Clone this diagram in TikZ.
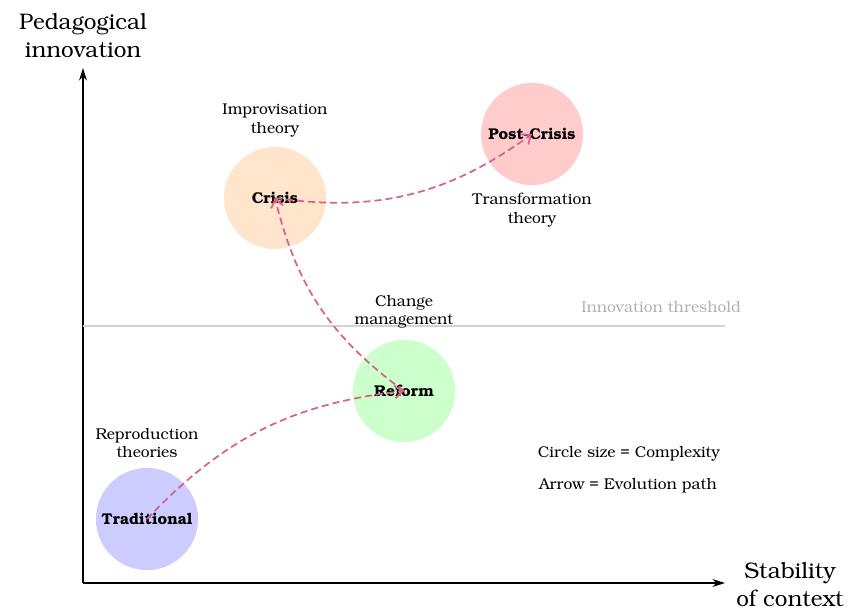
\documentclass[tikz,border=0pt]{standalone}
\usepackage[T1]{fontenc}
\usepackage{bookman}
\usetikzlibrary{arrows.meta}

\definecolor{tradblue}{RGB}{204,204,255}
\definecolor{reformgreen}{RGB}{204,255,204}
\definecolor{crisisorange}{RGB}{255,229,204}
\definecolor{postred}{RGB}{255,204,204}
\definecolor{pathpink}{RGB}{216,96,138}
\definecolor{threshgray}{RGB}{210,210,210}

\tikzset{
	stage/.style={circle,minimum size=2.3cm,inner sep=0pt,font=\bfseries},
	theory/.style={align=center},
	evolution/.style={draw=pathpink,line width=1.1pt,dash pattern=on 4.5pt off 2.6pt,
		-{Straight Barb[length=5pt,width=8pt]}},
	axis/.style={line width=1.3pt,-{Stealth[length=8pt,width=5pt]}}
}

\begin{document}
\begin{tikzpicture}[x=0.0225cm,y=-0.0225cm]
	\useasboundingbox (0,0) rectangle (852,610);
	% axes
	\coordinate (O) at (83,583);
	\coordinate (Ytop) at (83,68);
	\coordinate (Xend) at (725,583);
	\draw[axis] (O)--(Ytop);
	\draw[axis] (O)--(Xend);
	\node[align=center,font=\Large] (ylab) at (83,36) {Pedagogical\\innovation};
	\node[align=center,font=\Large] (xlab) at (790,585) {Stability\\of context};
	
	% threshold
	\coordinate (Tl) at (83,326);
	\coordinate (Tr) at (725,326);
	\draw[threshgray,line width=1pt] (Tl)--(Tr);
	\node[text=black!30] (thresh) at (661,307) {Innovation threshold};
	
	% stages
	\node[stage,fill=tradblue] (trad) at (147,519) {Traditional};
	\node[stage,fill=reformgreen] (reform) at (404,391) {Reform};
	\node[stage,fill=crisisorange] (crisis) at (275,198) {Crisis};
	\node[stage,fill=postred] (post) at (532,134) {Post-Crisis};
	
	% theories
	\node[theory] (reprod) at (147,443) {Reproduction\\theories};
	\node[theory] (change) at (404,312) {Change\\management};
	\node[theory] (improv) at (275,120) {Improvisation\\theory};
	\node[theory] (transf) at (532,210) {Transformation\\theory};
	
	% legend
	\node (size) at (629,454) {Circle size = Complexity};
	\node (arrow) at (628,486) {Arrow = Evolution path};
	
	% evolution path
	\draw[evolution] (trad.center) to[bend left=20] (reform.center);
	\draw[evolution] (reform.center) to[bend left=20] (crisis.center);
	\draw[evolution] (crisis.center) to[bend right=22] (post.center);
\end{tikzpicture}
\end{document}
